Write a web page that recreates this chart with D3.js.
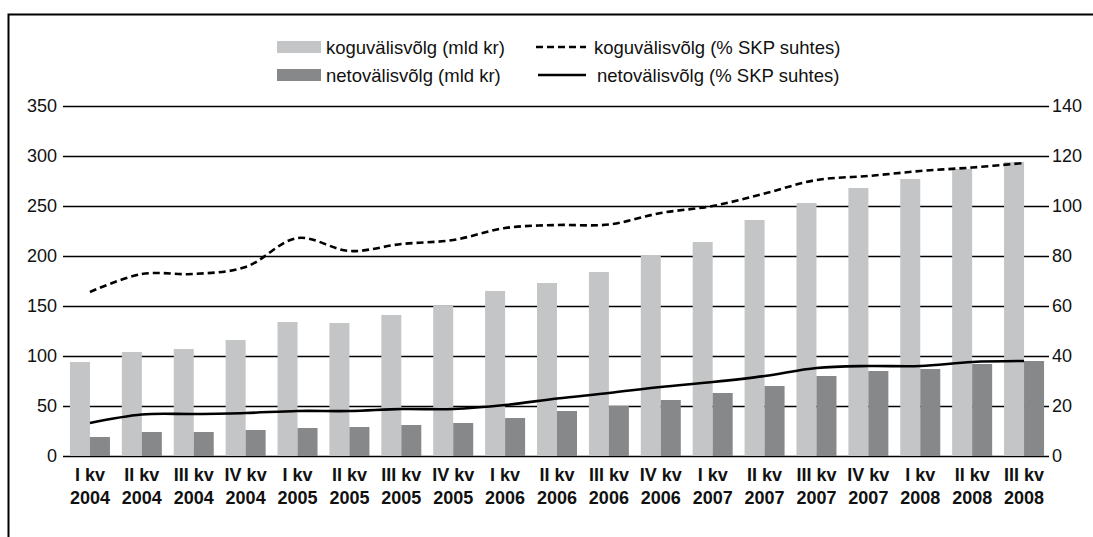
<!DOCTYPE html>
<html>
<head>
<meta charset="utf-8">
<script src="https://cdn.jsdelivr.net/npm/d3@7/dist/d3.min.js"></script>
<style>
  body { margin: 0; background: #fff; }
  svg text { font-family: "Liberation Sans", Arial, Helvetica, sans-serif; fill: #111; }
</style>
</head>
<body>
<div class="canvas"></div>
<script>
// data
const quarters = ["I kv", "II kv", "III kv", "IV kv", "I kv", "II kv", "III kv", "IV kv",
  "I kv", "II kv", "III kv", "IV kv", "I kv", "II kv", "III kv", "IV kv", "I kv", "II kv", "III kv"];
const years = ["2004", "2004", "2004", "2004", "2005", "2005", "2005", "2005",
  "2006", "2006", "2006", "2006", "2007", "2007", "2007", "2007", "2008", "2008", "2008"];
const grossDebt = [94, 104, 107, 116, 134, 133, 141, 150, 165, 173, 184, 201, 214, 236, 253, 268, 277, 287, 294];
const netDebt = [19, 24, 24, 26, 28, 29, 31, 33, 38, 45, 50, 56, 63, 70, 80, 85, 87, 92, 95];
const grossPct = [65.6, 72.8, 72.8, 75.6, 87.2, 82, 84.8, 86.4, 91.2, 92.4, 92.6, 97.2, 100, 105, 110.4, 112, 114, 115.4, 117.2];
const netPct = [13.2, 16.6, 16.8, 17.2, 18, 18, 18.8, 18.8, 20.4, 23, 25.2, 27.6, 29.6, 32, 35.2, 36, 36, 37.6, 38];
const leftTicks = [0, 50, 100, 150, 200, 250, 300, 350];
const rightTicks = [0, 20, 40, 60, 80, 100, 120, 140];
const legendLabels = ["koguvälisvõlg (mld kr)", "netovälisvõlg (mld kr)",
  "koguvälisvõlg (% SKP suhtes)", "netovälisvõlg (% SKP suhtes)"];

(function () {
    const width = 1093;
    const height = 537;
    const PLOT_LEFT = 63;
    const PLOT_RIGHT = 1049;
    const PLOT_TOP = 106;
    const PLOT_BOTTOM = 456;
    const BAR_WIDTH = 20;
    const LIGHT = "#c4c5c7";
    const DARK = "#87888a";
    const FONT = "18px";

    const svg = d3.select(".canvas").append("svg")
        .attr("width", width)
        .attr("height", height);

    // frame
    svg.append("path")
        .attr("d", "M8.5," + height + "V14.5H" + width)
        .attr("fill", "none")
        .attr("stroke", "#000")
        .attr("stroke-width", 2);

    const idx = d3.range(quarters.length);
    const x = d3.scaleBand().domain(idx).range([PLOT_LEFT + 1, PLOT_RIGHT + 1]).padding(0);
    const yL = d3.scaleLinear().domain([0, 350]).range([PLOT_BOTTOM, PLOT_TOP]);
    const yR = d3.scaleLinear().domain([0, 140]).range([PLOT_BOTTOM, PLOT_TOP]);
    const cx = i => x(i) + x.bandwidth() / 2;

    // axis labels
    const leftAxis = svg.append("g")
        .attr("transform", "translate(" + PLOT_LEFT + ",0)")
        .call(d3.axisLeft(yL).tickValues(leftTicks).tickSize(0).tickPadding(6));
    leftAxis.select(".domain").remove();
    leftAxis.selectAll("text").style("font-size", FONT).attr("fill", "#111");

    const rightAxis = svg.append("g")
        .attr("transform", "translate(" + PLOT_RIGHT + ",0)")
        .call(d3.axisRight(yR).tickValues(rightTicks).tickSize(0).tickPadding(3));
    rightAxis.select(".domain").remove();
    rightAxis.selectAll("text").style("font-size", FONT).attr("fill", "#111");

    // gridlines
    svg.append("g").selectAll("line")
        .data(leftTicks)
        .join("line")
        .attr("x1", PLOT_LEFT)
        .attr("x2", PLOT_RIGHT)
        .attr("y1", d => Math.round(yL(d)) + 0.5)
        .attr("y2", d => Math.round(yL(d)) + 0.5)
        .attr("stroke", "#000")
        .attr("stroke-width", 1.3);

    // bars
    svg.append("g").selectAll("rect")
        .data(grossDebt)
        .join("rect")
        .attr("x", (d, i) => cx(i) - BAR_WIDTH)
        .attr("y", d => yL(d))
        .attr("width", BAR_WIDTH)
        .attr("height", d => PLOT_BOTTOM - yL(d))
        .attr("fill", LIGHT);

    svg.append("g").selectAll("rect")
        .data(netDebt)
        .join("rect")
        .attr("x", (d, i) => cx(i))
        .attr("y", d => yL(d))
        .attr("width", BAR_WIDTH)
        .attr("height", d => PLOT_BOTTOM - yL(d))
        .attr("fill", DARK);

    // lines
    const line = d3.line()
        .x((d, i) => cx(i))
        .y(d => yR(d))
        .curve(d3.curveCatmullRom.alpha(0.5));

    svg.append("path")
        .datum(grossPct)
        .attr("d", line)
        .attr("fill", "none")
        .attr("stroke", "#000")
        .attr("stroke-width", 2.6)
        .attr("stroke-dasharray", "7,4");

    svg.append("path")
        .datum(netPct)
        .attr("d", line)
        .attr("fill", "none")
        .attr("stroke", "#000")
        .attr("stroke-width", 2.6);

    // category labels
    const cats = svg.append("g").selectAll("text")
        .data(idx)
        .join("text")
        .attr("text-anchor", "middle")
        .style("font-size", FONT)
        .style("font-weight", "bold");
    cats.append("tspan")
        .attr("x", i => cx(i))
        .attr("y", 481)
        .text(i => quarters[i]);
    cats.append("tspan")
        .attr("x", i => cx(i))
        .attr("y", 504)
        .text(i => years[i]);

    // legend
    const legend = svg.append("g").style("font-size", "18.5px");
    const rows = [47, 75];
    [LIGHT, DARK].forEach((c, k) => {
        legend.append("rect")
            .attr("x", 277).attr("y", rows[k] - 6)
            .attr("width", 44).attr("height", 12)
            .attr("fill", c);
        legend.append("text")
            .attr("x", 326).attr("y", rows[k] + 6.5)
            .text(legendLabels[k]);
    });
    legend.append("line")
        .attr("x1", 536).attr("x2", 586)
        .attr("y1", rows[0]).attr("y2", rows[0])
        .attr("stroke", "#000").attr("stroke-width", 2.6)
        .attr("stroke-dasharray", "7,4");
    legend.append("line")
        .attr("x1", 538).attr("x2", 586)
        .attr("y1", rows[1]).attr("y2", rows[1])
        .attr("stroke", "#000").attr("stroke-width", 2.6);
    legend.append("text").attr("x", 594).attr("y", rows[0] + 6.5).text(legendLabels[2]);
    legend.append("text").attr("x", 597).attr("y", rows[1] + 6.5).text(legendLabels[3]);
})();
</script>
</body>
</html>
